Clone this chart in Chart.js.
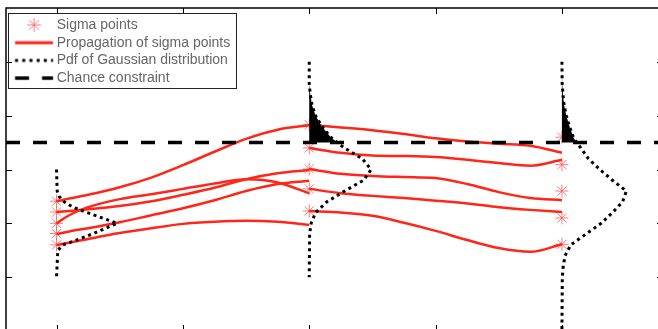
<!DOCTYPE html>
<html>
<head>
<meta charset="utf-8">
<script src="https://cdn.jsdelivr.net/npm/chart.js@4.4.1/dist/chart.umd.min.js"></script>
<style>
  html, body { margin: 0; padding: 0; background: #fff; overflow: hidden; }
  #chart { display: block; }
</style>
</head>
<body>
<canvas id="chart" width="666" height="334"></canvas>
<script>
// axis limits and ticks (no tick labels in the figure)
const xRange = [-0.4, 4.8];
const yRange = [-1, 5];
const xTicks = [0, 1, 2, 3, 4];
const yTicks = [0, 1, 2, 3, 4];

const steps = [0, 2, 4];
const chanceLimit = 2.5;

// sigma points at each step
const sigma0 = [1.41, 1.21, 1.0, 0.81, 0.6];
const sigma2 = [2.83, 2.4, 2.01, 1.64, 1.23];
const sigma4 = [2.6, 2.09, 1.6, 1.1, 0.61];

// propagation of sigma points, step 0 -> 2
const pathX02 = [0, 0.1, 0.25, 0.5, 0.75, 1, 1.25, 1.5, 1.75, 2];
const path02 = [
  [1.41, 1.46, 1.53, 1.67, 1.85, 2.08, 2.33, 2.57, 2.74, 2.82],
  [1.21, 1.23, 1.26, 1.32, 1.41, 1.53, 1.66, 1.82, 1.93, 1.99],
  [1.0, 1.15, 1.30, 1.45, 1.54, 1.64, 1.74, 1.82, 1.76, 1.56],
  [0.80, 0.85, 0.91, 1.02, 1.15, 1.28, 1.43, 1.60, 1.73, 1.79],
  [0.60, 0.64, 0.71, 0.82, 0.91, 0.99, 1.03, 1.05, 1.03, 0.97]
];

// propagation of sigma points, step 2 -> 4
const pathX24 = [2, 2.25, 2.5, 2.75, 3, 3.25, 3.5, 3.75, 4];
const path24 = [
  [2.83, 2.78, 2.73, 2.66, 2.58, 2.52, 2.48, 2.44, 2.31],
  [2.40, 2.31, 2.26, 2.25, 2.23, 2.18, 2.12, 2.07, 2.18],
  [2.01, 1.92, 1.88, 1.86, 1.84, 1.73, 1.58, 1.47, 1.43],
  [1.64, 1.56, 1.51, 1.47, 1.42, 1.37, 1.30, 1.25, 1.21],
  [1.23, 1.20, 1.14, 1.01, 0.86, 0.69, 0.54, 0.47, 0.61]
];

// gaussian pdf drawn sideways: y level and horizontal width
const pdfY0 = [2.0, 1.6, 1.5, 1.4, 1.3, 1.2, 1.1, 1.0, 0.9, 0.8, 0.7, 0.6, 0.5, 0.0];
const pdfW0 = [0, 0.005, 0.02, 0.06, 0.13, 0.24, 0.36, 0.48, 0.38, 0.28, 0.17, 0.05, 0.01, 0];

const pdfY2 = [4.0, 3.6, 3.4, 3.2, 3.0, 2.8, 2.6, 2.5, 2.4, 2.2, 2.0, 1.8, 1.6, 1.4, 1.2, 1.0, 0.8, 0.0];
const pdfW2 = [0, 0, 0.008, 0.022, 0.05, 0.1, 0.17, 0.22, 0.28, 0.42, 0.49, 0.43, 0.28, 0.14, 0.05, 0.015, 0.003, 0];

const pdfY4 = [4.0, 3.6, 3.4, 3.2, 3.0, 2.8, 2.6, 2.5, 2.4, 2.2, 2.0, 1.8, 1.6, 1.4, 1.2, 1.0, 0.8, 0.6, 0.4, 0.2, 0.0, -1.0];
const pdfW4 = [0, 0.002, 0.008, 0.017, 0.035, 0.06, 0.09, 0.115, 0.15, 0.21, 0.30, 0.40, 0.51, 0.48, 0.40, 0.31, 0.19, 0.07, 0.025, 0.01, 0.003, 0];

const legendNames = ['Sigma points', 'Propagation of sigma points', 'Pdf of Gaussian distribution', 'Chance constraint'];

const RED = 'rgb(255,38,25)';
const STAR = 'rgba(255,90,90,0.8)';

const pdfs = [[steps[0], pdfY0, pdfW0], [steps[1], pdfY2, pdfW2], [steps[2], pdfY4, pdfW4]];

// part of the pdf above the chance constraint
function tail(step, ys, ws) {
  const pts = [];
  ys.forEach((y, i) => { if (y >= chanceLimit) pts.push({ x: step + ws[i], y }); });
  return pts;
}

const datasets = [];

// constraint
datasets.push({
  data: [{ x: xRange[0], y: chanceLimit }, { x: xRange[1], y: chanceLimit }],
  borderColor: '#000', borderWidth: 3.5, borderDash: [14, 13], borderCapStyle: 'butt',
  pointRadius: 0, order: 0
});

// pdf curves
pdfs.forEach(([step, ys, ws]) => {
  datasets.push({
    data: ys.map((y, i) => ({ x: step + ws[i], y })),
    borderColor: '#000', borderWidth: 3, borderDash: [3, 3.7], borderCapStyle: 'butt',
    tension: 0, pointRadius: 0, order: 1
  });
});

// propagation lines
path02.forEach(row => {
  datasets.push({
    data: row.map((y, i) => ({ x: pathX02[i], y })),
    borderColor: RED, borderWidth: 2.5, cubicInterpolationMode: 'monotone',
    pointRadius: 0, order: 3
  });
});
path24.forEach(row => {
  datasets.push({
    data: row.map((y, i) => ({ x: pathX24[i], y })),
    borderColor: RED, borderWidth: 2.5, cubicInterpolationMode: 'monotone',
    pointRadius: 0, order: 3
  });
});

// sigma points
const sigmaPts = [];
[sigma0, sigma2, sigma4].forEach((s, k) => s.forEach(y => sigmaPts.push({ x: steps[k], y })));
datasets.push({
  data: sigmaPts, showLine: false,
  pointStyle: 'star', pointRadius: 6.5, pointBorderWidth: 1,
  pointBorderColor: STAR, pointBackgroundColor: STAR, order: 4
});

// legend symbols
function symbol(kind) {
  const c = document.createElement('canvas');
  c.width = 60; c.height = 16;
  const g = c.getContext('2d');
  const cx = 34.3, x0 = 15.3, x1 = 53.3, cy = 8;
  g.lineCap = 'butt';
  if (kind === 0) {
    g.strokeStyle = STAR; g.lineWidth = 1;
    g.beginPath();
    for (let k = 0; k < 4; k++) {
      const a = k * Math.PI / 4, r = 7;
      g.moveTo(cx - r * Math.cos(a), cy - r * Math.sin(a));
      g.lineTo(cx + r * Math.cos(a), cy + r * Math.sin(a));
    }
    g.stroke();
  } else {
    g.beginPath();
    g.moveTo(x0, cy); g.lineTo(x1, cy);
    if (kind === 1) { g.strokeStyle = RED; g.lineWidth = 3; }
    if (kind === 2) { g.strokeStyle = '#000'; g.lineWidth = 3; g.setLineDash([3, 4.2]); }
    if (kind === 3) { g.strokeStyle = '#000'; g.lineWidth = 3.5; g.setLineDash([14, 13]); }
    g.stroke();
  }
  return c;
}
const legendSymbols = legendNames.map((n, i) => symbol(i));

// black tail of the pdf beyond the constraint
const tailFill = {
  id: 'tailFill',
  afterDatasetsDraw(chart) {
    const { ctx, scales: { x, y } } = chart;
    ctx.save();
    ctx.fillStyle = '#000';
    pdfs.slice(1).forEach(([step, ys, ws]) => {
      const pts = tail(step, ys, ws);
      ctx.beginPath();
      ctx.moveTo(x.getPixelForValue(step), y.getPixelForValue(pts[0].y));
      pts.forEach(p => ctx.lineTo(x.getPixelForValue(p.x), y.getPixelForValue(p.y)));
      ctx.lineTo(x.getPixelForValue(step), y.getPixelForValue(chanceLimit));
      ctx.closePath();
      ctx.fill();
    });
    ctx.restore();
  }
};

const frameTicks = {
  id: 'frameTicks',
  afterDraw(chart) {
    const { ctx, chartArea: a, scales: { x, y } } = chart;
    ctx.save();
    ctx.strokeStyle = '#000';
    ctx.lineWidth = 1;
    ctx.beginPath();
    xTicks.forEach(v => {
      const px = Math.round(x.getPixelForValue(v)) + 0.5;
      ctx.moveTo(px, a.top); ctx.lineTo(px, a.top + 6);
      ctx.moveTo(px, a.bottom); ctx.lineTo(px, a.bottom - 6);
    });
    yTicks.forEach(v => {
      const py = Math.round(y.getPixelForValue(v)) + 0.5;
      ctx.moveTo(a.left, py); ctx.lineTo(a.left + 6, py);
      ctx.moveTo(a.right, py); ctx.lineTo(a.right - 6, py);
    });
    ctx.stroke();
    ctx.lineWidth = 1.5;
    ctx.strokeRect(a.left, a.top, a.right - a.left, a.bottom - a.top);

    // legend frame
    const hb = chart.legend.legendHitBoxes;
    if (hb && hb.length) {
      const l = Math.min(...hb.map(h => h.left)) - 2;
      const r = Math.max(...hb.map(h => h.left + h.width)) + 5;
      const t = hb[0].top - 5;
      const b = hb[hb.length - 1].top + hb[hb.length - 1].height + 3;
      ctx.lineWidth = 1;
      ctx.strokeStyle = '#222';
      ctx.strokeRect(Math.round(l) + 0.5, Math.round(t) + 0.5, Math.round(r - l), Math.round(b - t));
    }
    ctx.restore();
  }
};

new Chart(document.getElementById('chart'), {
  type: 'line',
  data: { datasets },
  options: {
    responsive: false,
    animation: false,
    layout: { autoPadding: false, padding: { left: 6, top: 8, right: 3, bottom: 3 } },
    scales: {
      x: { type: 'linear', display: false, min: xRange[0], max: xRange[1] },
      y: { type: 'linear', display: false, min: yRange[0], max: yRange[1] }
    },
    plugins: {
      tooltip: { enabled: false },
      legend: {
        position: 'chartArea',
        align: 'start',
        onClick: () => {},
        title: { display: true, text: '', padding: 0, font: { size: 14.3, lineHeight: 1 } },
        labels: {
          usePointStyle: true,
          pointStyleWidth: 40,
          boxHeight: 14,
          padding: 3.7,
          color: '#000',
          font: { family: "'Liberation Sans', Arial, sans-serif", size: 14 },
          generateLabels: () => legendNames.map((text, i) => ({
            text, pointStyle: legendSymbols[i], fillStyle: '#000', strokeStyle: '#000',
            lineWidth: 0, hidden: false, datasetIndex: i
          }))
        }
      }
    }
  },
  plugins: [tailFill, frameTicks]
});
</script>
</body>
</html>
